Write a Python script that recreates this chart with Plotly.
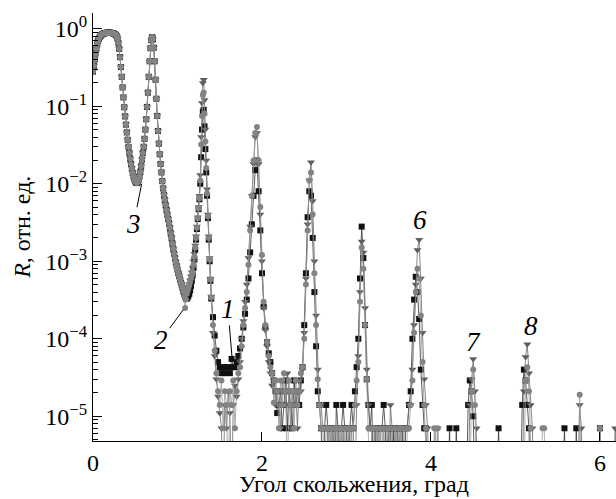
import plotly.graph_objects as go

Z = 1e-6  # zero-count channel (lies below the axis floor)

# grazing angle, deg (0.01 step up to 1.40, then 0.02)
angle = [
 0.00,0.01,0.02,0.03,0.04,0.05,0.06,0.07,0.08,0.09,
 0.10,0.11,0.12,0.13,0.14,0.15,0.16,0.17,0.18,0.19,
 0.20,0.21,0.22,0.23,0.24,0.25,0.26,0.27,0.28,0.29,
 0.30,0.31,0.32,0.33,0.34,0.35,0.36,0.37,0.38,0.39,
 0.40,0.41,0.42,0.43,0.44,0.45,0.46,0.47,0.48,0.49,
 0.50,0.51,0.52,0.53,0.54,0.55,0.56,0.57,0.58,0.59,
 0.60,0.61,0.62,0.63,0.64,0.65,0.66,0.67,0.68,0.69,
 0.70,0.71,0.72,0.73,0.74,0.75,0.76,0.77,0.78,0.79,
 0.80,0.81,0.82,0.83,0.84,0.85,0.86,0.87,0.88,0.89,
 0.90,0.91,0.92,0.93,0.94,0.95,0.96,0.97,0.98,0.99,
 1.00,1.01,1.02,1.03,1.04,1.05,1.06,1.07,1.08,1.09,
 1.10,1.11,1.12,1.13,1.14,1.15,1.16,1.17,1.18,1.19,
 1.20,1.21,1.22,1.23,1.24,1.25,1.26,1.27,1.28,1.29,
 1.30,1.31,1.32,1.33,1.34,1.35,1.36,1.37,1.38,1.39,
 1.40,
 1.42,1.44,1.46,1.48,1.50,1.52,1.54,1.56,1.58,1.60,
 1.62,1.64,1.66,1.68,1.70,1.72,1.74,1.76,1.78,1.80,
 1.82,1.84,1.86,1.88,1.90,1.92,1.94,1.96,1.98,2.00,
 2.02,2.04,2.06,2.08,2.10,2.12,2.14,2.16,2.18,2.20,
 2.22,2.24,2.26,2.28,2.30,2.32,2.34,2.36,2.38,2.40,
 2.42,2.44,2.46,2.48,2.50,2.52,2.54,2.56,2.58,2.60,
 2.62,2.64,2.66,2.68,2.70,2.72,2.74,2.76,2.78,2.80,
 2.82,2.84,2.86,2.88,2.90,2.92,2.94,2.96,2.98,3.00,
 3.02,3.04,3.06,3.08,3.10,3.12,3.14,3.16,3.18,3.20,
 3.22,3.24,3.26,3.28,3.30,3.32,3.34,3.36,3.38,3.40,
 3.42,3.44,3.46,3.48,3.50,3.52,3.54,3.56,3.58,3.60,
 3.62,3.64,3.66,3.68,3.70,3.72,3.74,3.76,3.78,3.80,
 3.82,3.84,3.86,3.88,3.90,3.92,3.94,3.96,3.98,4.00,
 4.02,4.04,4.06,4.08,4.10,4.12,4.14,4.16,4.18,4.20,
 4.22,4.24,4.26,4.28,4.30,4.32,4.34,4.36,4.38,4.40,
 4.42,4.44,4.46,4.48,4.50,4.52,4.54,4.56,4.58,4.60,
 4.62,4.64,4.66,4.68,4.70,4.72,4.74,4.76,4.78,4.80,
 4.82,4.84,4.86,4.88,4.90,4.92,4.94,4.96,4.98,5.00,
 5.02,5.04,5.06,5.08,5.10,5.12,5.14,5.16,5.18,5.20,
 5.22,5.24,5.26,5.28,5.30,5.32,5.34,5.36,5.38,5.40,
 5.42,5.44,5.46,5.48,5.50,5.52,5.54,5.56,5.58,5.60,
 5.62,5.64,5.66,5.68,5.70,5.72,5.74,5.76,5.78,5.80,
 5.82,5.84,5.86,5.88,5.90,5.92,5.94,5.96,5.98,6.00,
 6.02,6.04,6.06,6.08,6.10,6.12,6.14,6.16,6.18,6.20,
]

# 0.00-1.05 deg: the three curves coincide (total reflection + 1st Bragg peak)
R_common = [
 0.28,0.33,0.40,0.48,0.56,0.63,0.69,0.74,0.78,0.81,
 0.83,0.85,0.86,0.87,0.88,0.88,0.89,0.89,0.89,0.89,
 0.89,0.89,0.88,0.88,0.87,0.86,0.85,0.83,0.80,0.75,
 0.66,0.55,0.43,0.32,0.24,0.175,0.13,0.097,0.074,0.058,
 0.046,0.037,0.030,0.025,0.021,0.018,0.0157,0.0138,0.0124,0.0114,
 0.0107,0.0103,0.0102,0.0105,0.0112,0.0124,0.0142,0.0168,0.0205,0.025,
 0.030,0.038,0.050,0.068,0.098,0.15,0.24,0.38,0.56,0.71,
 0.78,0.73,0.57,0.38,0.22,0.125,0.075,0.048,0.033,0.024,
 0.018,0.014,0.0108,0.0087,0.0072,0.0062,0.0053,0.0046,0.0040,0.0035,
 0.0031,0.0027,0.0023,0.0020,0.0017,0.00145,0.00125,0.0011,0.00097,0.00087,
 0.00078,0.00070,0.00064,0.00058,0.00053,0.00049,
]

# sample 1 (black squares), 1.06 deg onward
R1_tail = [
 4.5e-4,4.1e-4,3.8e-4,3.5e-4,3.3e-4,3.3e-4,3.4e-4,3.6e-4,3.8e-4,4.2e-4,
 4.8e-4,5.6e-4,6.6e-4,8.2e-4,1.05e-3,1.4e-3,1.9e-3,2.6e-3,3.5e-3,4.7e-3,
 6.3e-3,0.010,0.022,0.050,0.085,0.090,0.055,0.028,0.014,7e-3,
 3.6e-3,1.9e-3,1.0e-3,5.6e-4,3.3e-4,
 1.9e-4,1.1e-4,7e-5,5e-5,4.3e-5,3.6e-5,4.3e-5,3.6e-5,4.3e-5,4.3e-5,
 3.6e-5,5.5e-5,4.3e-5,4.3e-5,5e-5,6e-5,7.5e-5,1e-4,1.4e-4,2.1e-4,
 3.2e-4,6e-4,1.3e-3,3e-3,7e-3,0.015,0.02,8e-3,2.5e-3,7e-4,
 2.6e-4,1.4e-4,9e-5,6.5e-5,5e-5,3.6e-5,2.9e-5,2.1e-5,1.1e-5,1.4e-5,
 2.1e-5,7e-6,1.4e-5,2.9e-5,7e-6,2.1e-5,1.4e-5,7e-6,2.9e-5,1.4e-5,
 2.1e-5,1.4e-5,2.9e-5,4.3e-5,1.5e-4,7e-4,3.7e-3,8e-3,7e-3,2e-3,
 4e-4,8e-5,2.1e-5,1.4e-5,7e-6,Z,7e-6,1.4e-5,7e-6,Z,
 7e-6,7e-6,Z,1.4e-5,7e-6,Z,7e-6,1.4e-5,7e-6,7e-6,
 Z,7e-6,1.4e-5,7e-6,2.1e-5,4.3e-5,1e-4,6e-4,2.8e-3,1.1e-3,
 1.5e-4,3e-5,1.4e-5,7e-6,1.4e-5,Z,7e-6,7e-6,Z,7e-6,
 7e-6,1.4e-5,7e-6,Z,7e-6,7e-6,Z,7e-6,Z,7e-6,
 7e-6,Z,7e-6,Z,7e-6,7e-6,1.4e-5,2.1e-5,1e-4,3.2e-4,
 6.3e-4,4e-4,1.8e-4,4e-5,1.4e-5,7e-6,7e-6,Z,Z,Z,
 Z,Z,Z,Z,Z,Z,Z,Z,Z,Z,
 7e-6,Z,Z,Z,7e-6,Z,Z,Z,Z,Z,
 Z,1.4e-5,2.9e-5,2.1e-5,1e-5,Z,Z,Z,Z,Z,
 Z,Z,Z,Z,Z,Z,Z,Z,Z,7e-6,
 Z,Z,Z,Z,Z,Z,Z,Z,Z,Z,
 Z,Z,Z,1.4e-5,4e-5,2.9e-5,1.4e-5,7e-6,Z,Z,
 Z,Z,Z,Z,Z,Z,Z,Z,Z,Z,
 Z,Z,Z,Z,Z,Z,Z,Z,7e-6,Z,
 Z,Z,Z,Z,Z,7e-6,Z,Z,Z,Z,
 Z,Z,Z,Z,Z,Z,Z,Z,Z,7e-6,
 Z,Z,Z,Z,Z,Z,Z,Z,Z,Z,
]

# sample 2 (grey circles)
R2_tail = [
 4.6e-4,4.1e-4,3.5e-4,2.5e-4,3.2e-4,3.8e-4,4.2e-4,4.6e-4,5.0e-4,5.5e-4,
 6.0e-4,6.5e-4,7.2e-4,9.0e-4,1.15e-3,1.5e-3,2.0e-3,2.7e-3,3.6e-3,4.8e-3,
 6.5e-3,0.011,0.032,0.075,0.14,0.15,0.08,0.035,0.016,7.5e-3,
 3.8e-3,2.0e-3,1.05e-3,5.8e-4,3.4e-4,
 1.5e-4,7e-5,3.6e-5,2.1e-5,1.4e-5,2.9e-5,7e-6,2.1e-5,1.4e-5,Z,
 2.1e-5,1.4e-5,2.9e-5,7e-6,2.1e-5,3.6e-5,4.3e-5,8e-5,1.5e-4,2.5e-4,
 4e-4,9e-4,2.5e-3,7e-3,0.02,0.045,0.054,0.02,5e-3,1.2e-3,
 3e-4,1.5e-4,9e-5,6e-5,4.3e-5,3.6e-5,1.5e-5,2.9e-5,2.1e-5,7e-6,
 2.9e-5,1.4e-5,3.6e-5,2.1e-5,Z,2.9e-5,1.4e-5,2.1e-5,7e-6,2.9e-5,
 1.4e-5,2.1e-5,3.6e-5,4.3e-5,1e-4,5e-4,2.5e-3,0.011,0.014,4e-3,
 7e-4,1.5e-4,3e-5,1.4e-5,7e-6,7e-6,Z,7e-6,7e-6,Z,
 7e-6,Z,7e-6,7e-6,Z,7e-6,7e-6,Z,7e-6,Z,
 7e-6,7e-6,Z,7e-6,1.4e-5,2.9e-5,5e-5,3e-4,1.5e-3,8e-4,
 1.5e-4,3e-5,7e-6,Z,7e-6,7e-6,Z,7e-6,Z,7e-6,
 Z,7e-6,Z,7e-6,7e-6,Z,7e-6,Z,7e-6,Z,
 7e-6,7e-6,Z,7e-6,Z,7e-6,7e-6,1.4e-5,2.9e-5,1.2e-4,
 4e-4,8e-4,6e-4,2e-4,5e-5,1.4e-5,7e-6,Z,Z,Z,
 Z,7e-6,Z,7e-6,Z,Z,Z,Z,Z,Z,
 Z,Z,Z,Z,Z,Z,Z,Z,Z,Z,
 Z,Z,Z,2.1e-5,4e-5,1.4e-5,Z,Z,Z,Z,
 Z,Z,Z,Z,Z,Z,Z,Z,Z,Z,
 Z,Z,Z,Z,Z,Z,Z,Z,Z,Z,
 Z,Z,Z,Z,Z,2.9e-5,4.3e-5,2.1e-5,7e-6,Z,
 Z,Z,Z,Z,Z,7e-6,7e-6,Z,Z,Z,
 Z,Z,Z,Z,Z,Z,Z,Z,Z,Z,
 Z,Z,Z,Z,Z,Z,Z,1.9e-5,Z,Z,
 Z,Z,Z,Z,Z,Z,Z,Z,Z,7e-6,
 Z,Z,Z,Z,Z,Z,Z,Z,Z,Z,
]

# sample 3 (dark-grey triangles)
R3_tail = [
 4.7e-4,4.3e-4,4.0e-4,3.8e-4,3.8e-4,3.9e-4,4.2e-4,4.6e-4,5.1e-4,5.7e-4,
 6.4e-4,7.2e-4,8.2e-4,1.0e-3,1.25e-3,1.6e-3,2.1e-3,2.8e-3,3.7e-3,5.0e-3,
 7.0e-3,0.013,0.040,0.11,0.20,0.22,0.12,0.05,0.02,8.5e-3,
 4.0e-3,2.1e-3,1.1e-3,6.0e-4,3.5e-4,
 1.2e-4,6e-5,3e-5,1.8e-5,1.1e-5,7e-6,Z,1.4e-5,7e-6,2.1e-5,
 1.1e-5,Z,1.4e-5,2.5e-5,1.8e-5,3e-5,5e-5,1e-4,1.7e-4,3e-4,
 5e-4,1.1e-3,2.8e-3,7e-3,0.018,0.04,0.045,0.018,4e-3,1e-3,
 2.5e-4,1.3e-4,8e-5,5e-5,3.6e-5,2.5e-5,2.9e-5,1.4e-5,2.1e-5,1.4e-5,
 7e-6,2.9e-5,2.1e-5,1.4e-5,3.6e-5,2.1e-5,7e-6,2.1e-5,1.4e-5,2.1e-5,
 7e-6,2.9e-5,2.1e-5,4e-5,1.2e-4,6e-4,3e-3,0.011,0.019,6e-3,
 1e-3,2e-4,4e-5,1.4e-5,1.4e-5,7e-6,7e-6,Z,7e-6,7e-6,
 Z,7e-6,7e-6,Z,7e-6,7e-6,Z,7e-6,Z,7e-6,
 7e-6,Z,7e-6,7e-6,Z,1.4e-5,6e-5,4e-4,1.8e-3,1.3e-3,
 2.5e-4,4e-5,1.4e-5,7e-6,7e-6,Z,7e-6,Z,7e-6,7e-6,
 7e-6,Z,7e-6,7e-6,Z,1.4e-5,7e-6,Z,7e-6,7e-6,
 Z,7e-6,7e-6,Z,7e-6,7e-6,1.4e-5,1.4e-5,4e-5,1.5e-4,
 5e-4,1.4e-3,1.9e-3,6e-4,1.2e-4,3e-5,1.4e-5,7e-6,Z,Z,
 Z,Z,7e-6,7e-6,Z,Z,Z,Z,Z,Z,
 Z,Z,Z,Z,Z,Z,Z,Z,Z,Z,
 Z,Z,1.4e-5,3e-5,5.5e-5,2.1e-5,7e-6,Z,Z,Z,
 Z,Z,Z,Z,Z,Z,Z,Z,Z,Z,
 Z,Z,Z,Z,Z,Z,Z,Z,Z,Z,
 Z,Z,Z,Z,2.1e-5,5.8e-5,8.5e-5,3.6e-5,1.4e-5,7e-6,
 Z,Z,Z,Z,Z,Z,Z,Z,Z,Z,
 Z,Z,Z,Z,Z,Z,Z,Z,Z,Z,
 Z,Z,Z,Z,Z,Z,Z,1.4e-5,7e-6,Z,
 Z,Z,Z,Z,Z,Z,Z,Z,Z,Z,
 Z,Z,Z,Z,Z,Z,Z,Z,7e-6,Z,
]

R1 = R_common + R1_tail
R2 = R_common + R2_tail
R3 = R_common + R3_tail

x_ticks = [0, 2, 4, 6]
y_ticks = [1, 1e-1, 1e-2, 1e-3, 1e-4, 1e-5]
y_tick_text = ["10<sup>0</sup>", "10<sup>−1</sup>", "10<sup>−2</sup>",
               "10<sup>−3</sup>", "10<sup>−4</sup>", "10<sup>−5</sup>"]
y_minor = [k * 10.0 ** e for e in range(-6, 1) for k in range(2, 10)]

FONT = "Liberation Serif"
TICK_SIZE = 24
TITLE_SIZE = 24
LABEL_SIZE = 27

fig = go.Figure()
fig.add_trace(go.Scatter(x=angle, y=R1, mode="lines+markers",
                         line=dict(color="#333333", width=0.8),
                         marker=dict(symbol="square", size=6, color="#111111"),
                         hoverinfo="skip"))
fig.add_trace(go.Scatter(x=angle, y=R3, mode="lines+markers",
                         line=dict(color="#6a6a6a", width=0.8),
                         marker=dict(symbol="triangle-down", size=7, color="#5e5e5e"),
                         hoverinfo="skip"))
fig.add_trace(go.Scatter(x=angle, y=R2, mode="lines+markers",
                         line=dict(color="#999999", width=0.8),
                         marker=dict(symbol="circle", size=6, color="#838383"),
                         hoverinfo="skip"))

annots = []
# leader-line labels: (text, tip x, tip log10 y, dx px, dy px)
for txt, xt, lyt, dx, dy in [("3", 0.576, -2.0, -8, 40),
                             ("2", 1.067, -3.627, -22, 30),
                             ("1", 1.645, -4.234, -4, -48)]:
    annots.append(dict(x=xt, y=lyt, xref="x", yref="y", text="<i>%s</i>" % txt,
                       showarrow=True, arrowhead=0, arrowwidth=1, arrowcolor="black",
                       ax=dx, ay=dy, standoff=0,
                       font=dict(family=FONT, size=LABEL_SIZE, color="black")))
for txt, xt, lyt in [("6", 3.866, -2.464), ("7", 4.50, -4.04), ("8", 5.186, -3.833)]:
    annots.append(dict(x=xt, y=lyt, xref="x", yref="y", text="<i>%s</i>" % txt,
                       showarrow=False,
                       font=dict(family=FONT, size=LABEL_SIZE, color="black")))
annots.append(dict(x=0.499, y=-0.1, xref="paper", yref="paper",
                   text="Угол скольжения, град", showarrow=False,
                   xanchor="center", yanchor="middle",
                   font=dict(family=FONT, size=TITLE_SIZE, color="black")))
annots.append(dict(x=-0.136, y=0.5, xref="paper", yref="paper",
                   text="<i>R</i>, отн. ед.", showarrow=False, textangle=-90,
                   xanchor="center", yanchor="middle",
                   font=dict(family=FONT, size=TITLE_SIZE, color="black")))

fig.update_layout(
    width=616, height=499,
    margin=dict(l=93, r=0, t=13, b=58),
    paper_bgcolor="white", plot_bgcolor="white",
    showlegend=False,
    font=dict(family=FONT, size=TICK_SIZE, color="black"),
    annotations=annots,
    xaxis=dict(range=[0, 6.19], tickmode="array", tickvals=x_ticks,
               ticks="inside", ticklen=9, tickwidth=1.3, tickcolor="black",
               showline=True, linewidth=1.3, linecolor="black",
               showgrid=False, zeroline=False,
               tickfont=dict(family=FONT, size=TICK_SIZE, color="black")),
    yaxis=dict(type="log", range=[-5.319, 0.203], tickmode="array",
               tickvals=y_ticks, ticktext=y_tick_text,
               ticks="inside", ticklen=9, tickwidth=1.3, tickcolor="black",
               minor=dict(tickmode="array", tickvals=y_minor, ticks="inside",
                          ticklen=5, tickwidth=1, tickcolor="black"),
               showline=True, linewidth=1.3, linecolor="black",
               showgrid=False, zeroline=False,
               tickfont=dict(family=FONT, size=TICK_SIZE, color="black")),
)

fig.write_html("out.html")
